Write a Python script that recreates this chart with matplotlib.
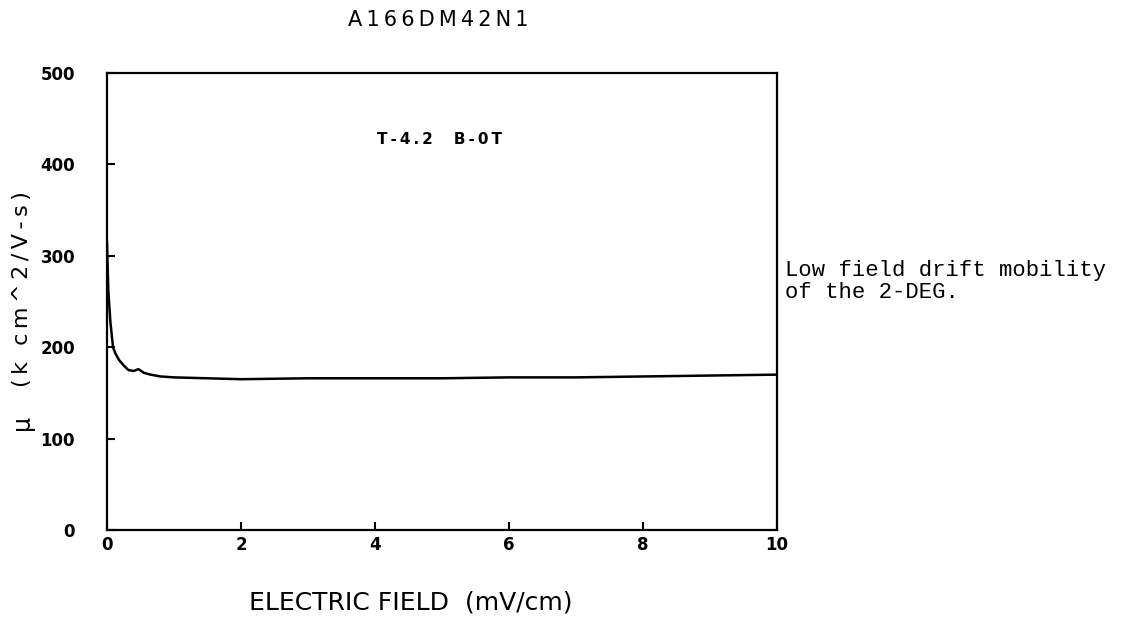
import matplotlib
matplotlib.use("Agg")
import matplotlib.pyplot as plt

# Drift mobility vs electric field, T=4.2 K, B=0 T
field = [0.0, 0.02, 0.05, 0.09, 0.12, 0.18, 0.25, 0.32, 0.40, 0.47, 0.55, 0.65,
         0.80, 1.0, 1.5, 2.0, 3.0, 4.0, 5.0, 6.0, 7.0, 8.0, 9.0, 10.0]
mobility = [315, 262, 228, 200, 194, 186, 180, 175, 174, 176, 172, 170,
            168, 167, 166, 165, 166, 166, 166, 167, 167, 168, 169, 170]

xticks = [0, 2, 4, 6, 8, 10]
yticks = [0, 100, 200, 300, 400, 500]


def spaced(s):
    # plotter-style letter spacing
    return "\u2009".join(s)


fig = plt.figure(figsize=(11.48, 6.3), dpi=100)
ax = fig.add_axes([0.0932, 0.1587, 0.5836, 0.7254])

ax.plot(field, mobility, color="black", lw=1.8)

ax.set_xlim(0, 10)
ax.set_ylim(0, 500)
ax.set_xticks(xticks)
ax.set_yticks(yticks)
ax.tick_params(direction="in", length=6, width=1.5, labelsize=12)
ax.tick_params(axis="y", pad=23)
ax.tick_params(axis="x", pad=4)
for lbl in ax.get_xticklabels() + ax.get_yticklabels():
    lbl.set_fontweight("bold")
for sp in ax.spines.values():
    sp.set_linewidth(1.6)

fig.text(0.3815, 0.968, spaced("A166DM42N1"), fontsize=15,
         ha="center", va="center")
ax.text(4.03, 427, spaced("T-4.2") + "    " + spaced("B-0T"), fontsize=11,
        fontweight="bold", va="center")

# y axis label: mu set apart from the units
fig.text(0.019, 0.329, "\u03bc", fontsize=17, rotation=90,
         ha="center", va="center")
fig.text(0.019, 0.541, spaced("(k cm^2/V-s)"), fontsize=16, rotation=90,
         ha="center", va="center")

fig.text(0.358, 0.032, "ELECTRIC FIELD  (mV/cm)", fontsize=18, ha="center")
fig.text(0.684, 0.553, "Low field drift mobility\nof the 2-DEG.",
         fontsize=16, family="Liberation Mono", va="center", linespacing=1.1)

fig.savefig("out.png", dpi=100)
